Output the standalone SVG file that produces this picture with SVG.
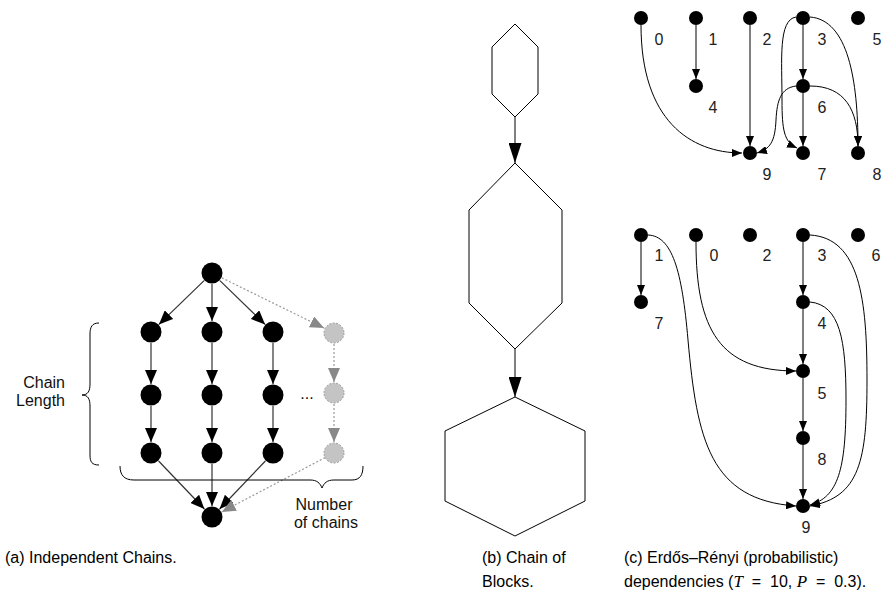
<svg xmlns="http://www.w3.org/2000/svg" width="888" height="594" viewBox="0 0 888 594">
<defs>
<marker id="arrA" markerUnits="userSpaceOnUse" markerWidth="14" markerHeight="12" refX="14" refY="6" orient="auto"><path d="M0,0 L14,6 L0,12 z" fill="#000"/></marker>
<marker id="arrG" markerUnits="userSpaceOnUse" markerWidth="14" markerHeight="12" refX="14" refY="6" orient="auto"><path d="M0,0 L14,6 L0,12 z" fill="#888"/></marker>
<marker id="arrB" markerUnits="userSpaceOnUse" markerWidth="20" markerHeight="13" refX="20" refY="6.5" orient="auto"><path d="M0,0 L20,6.5 L0,13 z" fill="#000"/></marker>
<marker id="arrC" markerUnits="userSpaceOnUse" markerWidth="10" markerHeight="8" refX="10" refY="4" orient="auto"><path d="M0,0 L10,4 L0,8 z" fill="#000"/></marker>
</defs>
<style>
.n{fill:#000}
.g{fill:#c4c4c4;stroke:#999;stroke-width:1;stroke-dasharray:2,1.5}
.ea{fill:none;stroke:#333;stroke-width:1.2;marker-end:url(#arrA)}
.eg{fill:none;stroke:#999;stroke-width:1.2;stroke-dasharray:2,2;marker-end:url(#arrG)}
.eb{fill:none;stroke:#000;stroke-width:1;marker-end:url(#arrB)}
.ec{fill:none;stroke:#000;stroke-width:1;marker-end:url(#arrC)}
.hex{fill:#fff;stroke:#000;stroke-width:1}
.br{fill:none;stroke:#000;stroke-width:1}
.t{font-family:"Liberation Sans",Arial,sans-serif;font-size:16px;fill:#111}
.l{font-family:"Liberation Sans",Arial,sans-serif;font-size:16px;fill:#222;text-anchor:middle}
.cap{font-family:"Liberation Sans",Arial,sans-serif;font-size:16px;fill:#000}
.m{font-family:"Liberation Serif","Times New Roman",serif;font-style:italic;font-size:17px}
</style>

<!-- Panel (a) -->
<g id="a-connectors">
<line class="ea" x1="204.1" y1="280.6" x2="158.9" y2="324.4"/>
<line class="ea" x1="212" y1="284" x2="212" y2="321"/>
<line class="ea" x1="219.9" y1="280.6" x2="265.1" y2="324.4"/>
<line class="ea" x1="151" y1="343" x2="151" y2="384"/>
<line class="ea" x1="212" y1="343" x2="212" y2="384"/>
<line class="ea" x1="273" y1="343" x2="273" y2="384"/>
<line class="ea" x1="151" y1="406" x2="151" y2="442"/>
<line class="ea" x1="212" y1="406" x2="212" y2="442"/>
<line class="ea" x1="273" y1="406" x2="273" y2="442"/>
<line class="ea" x1="158.6" y1="461" x2="204.4" y2="509"/>
<line class="ea" x1="212" y1="464" x2="212" y2="506"/>
<line class="ea" x1="265.4" y1="461" x2="219.6" y2="509"/>
<line class="eg" x1="221.9" y1="277.9" x2="324.1" y2="328.1"/>
<line class="eg" x1="334" y1="344" x2="334" y2="382"/>
<line class="eg" x1="334" y1="404" x2="334" y2="442"/>
<line class="eg" x1="325.1" y1="457.6" x2="221.7" y2="511.9"/>
</g>
<g id="a-top"><circle class="n" cx="212" cy="273" r="10.5"/></g>
<g id="a-c1r1"><circle class="n" cx="151" cy="332" r="10.5"/></g>
<g id="a-c2r1"><circle class="n" cx="212" cy="332" r="10.5"/></g>
<g id="a-c3r1"><circle class="n" cx="273" cy="332" r="10.5"/></g>
<g id="a-c1r2"><circle class="n" cx="151" cy="395" r="10.5"/></g>
<g id="a-c2r2"><circle class="n" cx="212" cy="395" r="10.5"/></g>
<g id="a-c3r2"><circle class="n" cx="273" cy="395" r="10.5"/></g>
<g id="a-c1r3"><circle class="n" cx="151" cy="453" r="10.5"/></g>
<g id="a-c2r3"><circle class="n" cx="212" cy="453" r="10.5"/></g>
<g id="a-c3r3"><circle class="n" cx="273" cy="453" r="10.5"/></g>
<g id="a-bottom"><circle class="n" cx="212" cy="517" r="10.5"/></g>
<g id="a-g1"><circle class="g" cx="334" cy="333" r="10"/></g>
<g id="a-g2"><circle class="g" cx="334" cy="393" r="10"/></g>
<g id="a-g3"><circle class="g" cx="334" cy="453" r="10"/></g>
<text class="t" x="307" y="399" text-anchor="middle">...</text>
<path class="br" d="M99,323 C92,323 90,327 90,334 L90,384 C90,391 88,395 82,395 C88,395 90,399 90,406 L90,455 C90,462 92,465 99,465"/>
<text class="t" x="65" y="388" text-anchor="end">Chain</text>
<text class="t" x="65" y="406" text-anchor="end">Length</text>
<path class="br" d="M120,466 C120,475 124,480 134,480 L310,480 C317,480 320,483 322,488 C324,483 327,480 334,480 L352,480 C360,480 363,475 363,466"/>
<text class="t" x="324" y="510" text-anchor="middle">Number</text>
<text class="t" x="326" y="528" text-anchor="middle">of chains</text>

<!-- Panel (b) -->
<g id="b-connectors">
<line class="eb" x1="515" y1="117" x2="515" y2="163"/>
<line class="eb" x1="515" y1="349" x2="515" y2="397"/>
</g>
<g id="b-block1"><polygon class="hex" points="515,24 538,47 538,94 515,117 492,94 492,47"/></g>
<g id="b-block2"><polygon class="hex" points="515,163 562,210 562,303 515,349 469,303 469,210"/></g>
<g id="b-block3"><polygon class="hex" points="515,397 585,431 585,501 515,536 445,501 445,431"/></g>

<!-- Panel (c) top -->
<g id="c1-connectors">
<path class="ec" d="M641,25 C641,120 690,153 742,153"/>
<line class="ec" x1="696" y1="25" x2="696" y2="79"/>
<line class="ec" x1="750" y1="25" x2="750" y2="146"/>
<line class="ec" x1="803" y1="25" x2="803" y2="79"/>
<path class="ec" d="M796,17 C778,20 782,60 782,100 C782,130 784,142 797,148"/>
<path class="ec" d="M810,17 C848,20 858,80 858,146"/>
<line class="ec" x1="803" y1="93" x2="803" y2="146"/>
<path class="ec" d="M810,86 C845,86 858,110 858,146"/>
<path class="ec" d="M796,86 C781,88 777,100 776,120 C775,142 770,149 757,153"/>
</g>
<g id="c1-n0"><circle class="n" cx="641" cy="18" r="7"/><text class="l" x="659" y="45">0</text></g>
<g id="c1-n1"><circle class="n" cx="696" cy="18" r="7"/><text class="l" x="713" y="45">1</text></g>
<g id="c1-n2"><circle class="n" cx="750" cy="18" r="7"/><text class="l" x="767" y="45">2</text></g>
<g id="c1-n3"><circle class="n" cx="803" cy="18" r="7"/><text class="l" x="822" y="45">3</text></g>
<g id="c1-n5"><circle class="n" cx="858" cy="18" r="7"/><text class="l" x="877" y="45">5</text></g>
<g id="c1-n4"><circle class="n" cx="696" cy="86" r="7"/><text class="l" x="713" y="113">4</text></g>
<g id="c1-n6"><circle class="n" cx="803" cy="86" r="7"/><text class="l" x="822" y="113">6</text></g>
<g id="c1-n9"><circle class="n" cx="750" cy="153" r="7"/><text class="l" x="767" y="180">9</text></g>
<g id="c1-n7"><circle class="n" cx="803" cy="153" r="7"/><text class="l" x="822" y="180">7</text></g>
<g id="c1-n8"><circle class="n" cx="858" cy="153" r="7"/><text class="l" x="877" y="180">8</text></g>

<!-- Panel (c) bottom -->
<g id="c2-connectors">
<line class="ec" x1="641" y1="242" x2="641" y2="295"/>
<path class="ec" d="M648,235 C672,236 682,270 688,340 C697,440 710,500 796,506"/>
<path class="ec" d="M696,242 C696,330 720,371 796,371"/>
<line class="ec" x1="803" y1="242" x2="803" y2="295"/>
<path class="ec" d="M810,235 C860,238 867,300 867,380 C867,460 860,497 810,506"/>
<line class="ec" x1="803" y1="309" x2="803" y2="364"/>
<path class="ec" d="M810,302 C840,305 846,340 846,400 C846,470 838,497 810,505"/>
<line class="ec" x1="803" y1="378" x2="803" y2="431"/>
<line class="ec" x1="803" y1="445" x2="803" y2="499"/>
</g>
<g id="c2-n1"><circle class="n" cx="641" cy="235" r="7"/><text class="l" x="659" y="261">1</text></g>
<g id="c2-n0"><circle class="n" cx="696" cy="235" r="7"/><text class="l" x="714" y="261">0</text></g>
<g id="c2-n2"><circle class="n" cx="750" cy="235" r="7"/><text class="l" x="767" y="261">2</text></g>
<g id="c2-n3"><circle class="n" cx="803" cy="235" r="7"/><text class="l" x="822" y="261">3</text></g>
<g id="c2-n6"><circle class="n" cx="858" cy="235" r="7"/><text class="l" x="876" y="261">6</text></g>
<g id="c2-n7"><circle class="n" cx="641" cy="302" r="7"/><text class="l" x="659" y="329">7</text></g>
<g id="c2-n4"><circle class="n" cx="803" cy="302" r="7"/><text class="l" x="822" y="329">4</text></g>
<g id="c2-n5"><circle class="n" cx="803" cy="371" r="7"/><text class="l" x="822" y="399">5</text></g>
<g id="c2-n8"><circle class="n" cx="803" cy="438" r="7"/><text class="l" x="822" y="465">8</text></g>
<g id="c2-n9"><circle class="n" cx="803" cy="506" r="7"/><text class="l" x="806" y="533">9</text></g>

<!-- Captions -->
<text class="cap" x="5" y="563">(a) Independent Chains.</text>
<text class="cap" x="482" y="563">(b) Chain of</text>
<text class="cap" x="482" y="587">Blocks.</text>
<text class="cap" x="624" y="563">(c) Erdős–Rényi (probabilistic)</text>
<text class="cap" x="624" y="587" xml:space="preserve">dependencies (<tspan class="m">T</tspan>  =  10, <tspan class="m">P</tspan>  =  0.3).</text>
</svg>
